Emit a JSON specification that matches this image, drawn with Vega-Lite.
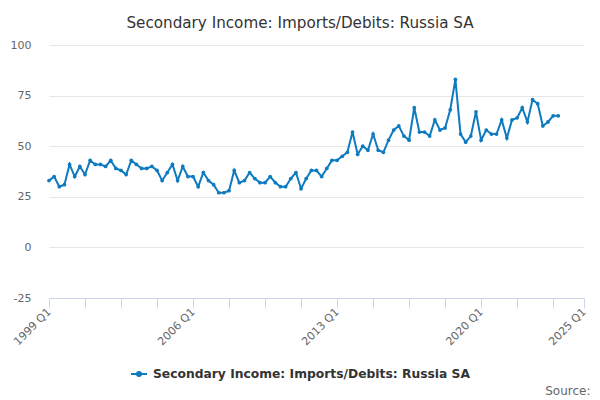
{
  "$schema": "https://vega.github.io/schema/vega-lite/v6.json",
  "autosize": "none",
  "width": 535,
  "height": 253,
  "padding": {"left": 49, "top": 45, "right": 16, "bottom": 102},
  "background": "white",
  "config": {
    "font": "DejaVu Sans",
    "view": {"stroke": null}
  },
  "title": {
    "text": "Secondary Income: Imports/Debits: Russia SA",
    "fontSize": 15.2,
    "fontWeight": "normal",
    "color": "#333333",
    "anchor": "middle",
    "dx": -16.5,
    "baseline": "alphabetic",
    "offset": -4
  },
  "data": {
    "values": [
      {"i": 0, "q": "1999 Q1", "v": 33}, {"i": 1, "q": "1999 Q2", "v": 35}, {"i": 2, "q": "1999 Q3", "v": 30}, {"i": 3, "q": "1999 Q4", "v": 31},
      {"i": 4, "q": "2000 Q1", "v": 41}, {"i": 5, "q": "2000 Q2", "v": 35}, {"i": 6, "q": "2000 Q3", "v": 40}, {"i": 7, "q": "2000 Q4", "v": 36},
      {"i": 8, "q": "2001 Q1", "v": 43}, {"i": 9, "q": "2001 Q2", "v": 41}, {"i": 10, "q": "2001 Q3", "v": 41}, {"i": 11, "q": "2001 Q4", "v": 40},
      {"i": 12, "q": "2002 Q1", "v": 43}, {"i": 13, "q": "2002 Q2", "v": 39}, {"i": 14, "q": "2002 Q3", "v": 38}, {"i": 15, "q": "2002 Q4", "v": 36},
      {"i": 16, "q": "2003 Q1", "v": 43}, {"i": 17, "q": "2003 Q2", "v": 41}, {"i": 18, "q": "2003 Q3", "v": 39}, {"i": 19, "q": "2003 Q4", "v": 39},
      {"i": 20, "q": "2004 Q1", "v": 40}, {"i": 21, "q": "2004 Q2", "v": 38}, {"i": 22, "q": "2004 Q3", "v": 33}, {"i": 23, "q": "2004 Q4", "v": 37},
      {"i": 24, "q": "2005 Q1", "v": 41}, {"i": 25, "q": "2005 Q2", "v": 33}, {"i": 26, "q": "2005 Q3", "v": 40}, {"i": 27, "q": "2005 Q4", "v": 35},
      {"i": 28, "q": "2006 Q1", "v": 35}, {"i": 29, "q": "2006 Q2", "v": 30}, {"i": 30, "q": "2006 Q3", "v": 37}, {"i": 31, "q": "2006 Q4", "v": 33},
      {"i": 32, "q": "2007 Q1", "v": 31}, {"i": 33, "q": "2007 Q2", "v": 27}, {"i": 34, "q": "2007 Q3", "v": 27}, {"i": 35, "q": "2007 Q4", "v": 28},
      {"i": 36, "q": "2008 Q1", "v": 38}, {"i": 37, "q": "2008 Q2", "v": 32}, {"i": 38, "q": "2008 Q3", "v": 33}, {"i": 39, "q": "2008 Q4", "v": 37},
      {"i": 40, "q": "2009 Q1", "v": 34}, {"i": 41, "q": "2009 Q2", "v": 32}, {"i": 42, "q": "2009 Q3", "v": 32}, {"i": 43, "q": "2009 Q4", "v": 35},
      {"i": 44, "q": "2010 Q1", "v": 32}, {"i": 45, "q": "2010 Q2", "v": 30}, {"i": 46, "q": "2010 Q3", "v": 30}, {"i": 47, "q": "2010 Q4", "v": 34},
      {"i": 48, "q": "2011 Q1", "v": 37}, {"i": 49, "q": "2011 Q2", "v": 29}, {"i": 50, "q": "2011 Q3", "v": 34}, {"i": 51, "q": "2011 Q4", "v": 38},
      {"i": 52, "q": "2012 Q1", "v": 38}, {"i": 53, "q": "2012 Q2", "v": 35}, {"i": 54, "q": "2012 Q3", "v": 39}, {"i": 55, "q": "2012 Q4", "v": 43},
      {"i": 56, "q": "2013 Q1", "v": 43}, {"i": 57, "q": "2013 Q2", "v": 45}, {"i": 58, "q": "2013 Q3", "v": 47}, {"i": 59, "q": "2013 Q4", "v": 57},
      {"i": 60, "q": "2014 Q1", "v": 46}, {"i": 61, "q": "2014 Q2", "v": 50}, {"i": 62, "q": "2014 Q3", "v": 48}, {"i": 63, "q": "2014 Q4", "v": 56},
      {"i": 64, "q": "2015 Q1", "v": 48}, {"i": 65, "q": "2015 Q2", "v": 47}, {"i": 66, "q": "2015 Q3", "v": 53}, {"i": 67, "q": "2015 Q4", "v": 58},
      {"i": 68, "q": "2016 Q1", "v": 60}, {"i": 69, "q": "2016 Q2", "v": 55}, {"i": 70, "q": "2016 Q3", "v": 53}, {"i": 71, "q": "2016 Q4", "v": 69},
      {"i": 72, "q": "2017 Q1", "v": 57}, {"i": 73, "q": "2017 Q2", "v": 57}, {"i": 74, "q": "2017 Q3", "v": 55}, {"i": 75, "q": "2017 Q4", "v": 63},
      {"i": 76, "q": "2018 Q1", "v": 58}, {"i": 77, "q": "2018 Q2", "v": 59}, {"i": 78, "q": "2018 Q3", "v": 68}, {"i": 79, "q": "2018 Q4", "v": 83},
      {"i": 80, "q": "2019 Q1", "v": 56}, {"i": 81, "q": "2019 Q2", "v": 52}, {"i": 82, "q": "2019 Q3", "v": 55}, {"i": 83, "q": "2019 Q4", "v": 67},
      {"i": 84, "q": "2020 Q1", "v": 53}, {"i": 85, "q": "2020 Q2", "v": 58}, {"i": 86, "q": "2020 Q3", "v": 56}, {"i": 87, "q": "2020 Q4", "v": 56},
      {"i": 88, "q": "2021 Q1", "v": 63}, {"i": 89, "q": "2021 Q2", "v": 54}, {"i": 90, "q": "2021 Q3", "v": 63}, {"i": 91, "q": "2021 Q4", "v": 64},
      {"i": 92, "q": "2022 Q1", "v": 69}, {"i": 93, "q": "2022 Q2", "v": 62}, {"i": 94, "q": "2022 Q3", "v": 73}, {"i": 95, "q": "2022 Q4", "v": 71},
      {"i": 96, "q": "2023 Q1", "v": 60}, {"i": 97, "q": "2023 Q2", "v": 62}, {"i": 98, "q": "2023 Q3", "v": 65}, {"i": 99, "q": "2023 Q4", "v": 65}
    ]
  },
  "mark": {
    "type": "line",
    "strokeWidth": 2,
    "point": {"filled": true, "size": 14}
  },
  "encoding": {
    "x": {
      "field": "i",
      "type": "quantitative",
      "scale": {"domain": [0, 104], "nice": false, "zero": false},
      "axis": {
        "values": [0, 7, 14, 21, 28, 35, 42, 49, 56, 63, 70, 77, 84, 91, 98, 104],
        "labelExpr": "(datum.value % 28 == 0 || datum.value == 104) ? (1999 + floor(datum.value / 4)) + ' Q' + (datum.value % 4 + 1) : ''",
        "labelAngle": -45,
        "labelAlign": "right",
        "labelBaseline": "middle",
        "labelFontSize": 11,
        "labelColor": "#666666",
        "labelPadding": 2,
        "labelOverlap": false,
        "labelFlush": false,
        "grid": false,
        "domainColor": "#ccd6eb",
        "domainWidth": 1,
        "tickColor": "#ccd6eb",
        "tickSize": 10,
        "title": "Source:",
        "titleFontSize": 12,
        "titleFontWeight": "normal",
        "titleColor": "#666666",
        "titleAnchor": null,
        "titleAlign": "right",
        "titleBaseline": "alphabetic",
        "titleX": 541,
        "titleY": 96
      }
    },
    "y": {
      "field": "v",
      "type": "quantitative",
      "scale": {"domain": [-25, 100], "nice": false, "zero": false},
      "axis": {
        "values": [-25, 0, 25, 50, 75, 100],
        "labelExpr": "'' + datum.value",
        "labelFontSize": 11,
        "labelColor": "#666666",
        "labelPadding": 18,
        "ticks": false,
        "domain": false,
        "grid": true,
        "gridColor": "#e6e6e6",
        "gridWidth": 1,
        "title": null
      }
    },
    "color": {
      "datum": "Secondary Income: Imports/Debits: Russia SA",
      "type": "nominal",
      "scale": {"range": ["#0e7ac0"]},
      "legend": {
        "title": null,
        "orient": "none",
        "legendX": 81,
        "legendY": 320,
        "symbolType": "M-1,0L1,0M-0.25,0a0.25,0.25 0 1,0 0.5,0a0.25,0.25 0 1,0 -0.5,0",
        "symbolSize": 256,
        "symbolStrokeWidth": 2,
        "symbolFillColor": "#0e7ac0",
        "symbolStrokeColor": "#0e7ac0",
        "labelFontSize": 12.3,
        "labelFontWeight": "bold",
        "labelColor": "#333333",
        "labelLimit": 0,
        "labelOffset": 5
      }
    }
  }
}
